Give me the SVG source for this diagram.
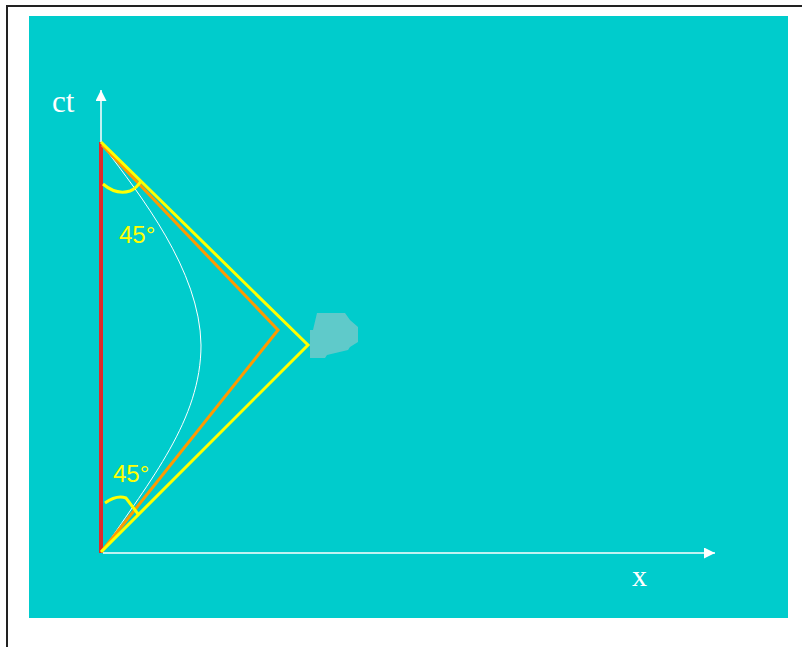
<svg xmlns="http://www.w3.org/2000/svg" width="802" height="647" viewBox="0 0 802 647">
<style>
.axis{stroke:#ffffff;stroke-width:1.5;fill:none}
.lbl{font-family:"Liberation Serif",serif;fill:#ffffff}
.ang{font-family:"Liberation Sans",Arial,sans-serif;font-size:24px;fill:#ffff00}
.yl{stroke:#ffff00;stroke-width:3;fill:none;stroke-linejoin:miter}
.or{stroke:#ff9900;stroke-width:3;fill:none}
</style>
<defs>
<marker id="ah" markerWidth="12" markerHeight="12" refX="11" refY="5.5" orient="auto" markerUnits="userSpaceOnUse">
<path d="M0,0 L11,5.5 L0,11 Z" fill="#ffffff"/>
</marker>
</defs>
<rect width="802" height="647" fill="#ffffff"/>
<path d="M7,647 L7,6 L802,6" stroke="#222222" stroke-width="2" fill="none"/>
<rect x="29" y="16" width="759" height="602" fill="#00cccc"/>
<g id="connectors">
<line id="ct-axis" class="axis" x1="101" y1="142" x2="101" y2="90" marker-end="url(#ah)"/>
<line id="x-axis" class="axis" x1="103" y1="553" x2="715" y2="553" marker-end="url(#ah)"/>
<line id="worldline" x1="101" y1="142" x2="101" y2="553" stroke="#e02a2a" stroke-width="4"/>
<path id="curve" d="M104,147 C 140,195 200,270 201,345 C 201,420 150,480 104,549" stroke="#ffffff" stroke-width="1" fill="none"/>
<polyline id="orange-path" class="or" points="102,145 278,330 102,551"/>
<polyline id="yellow-path" class="yl" points="101,142 308,345 101,552"/>
<path id="arc-top" class="yl" d="M103,184 C 110,190 120,194 130,191 C 135,189 138,186 141,181"/>
<path id="arc-bottom" class="yl" d="M105,503 C 112,498 120,496 126,498 L 138,514"/>
</g>
<g id="blob">
<polygon points="317,313 345,313 350,320 358,327 358,342 350,347 348,350 327,355 325,358 310,358 310,330 313,330" fill="#5fcaca"/>
</g>
<g id="label-ct"><text class="lbl" x="52" y="112" font-size="31">ct</text></g>
<g id="label-x"><text class="lbl" x="632" y="586" font-size="30">x</text></g>
<g id="label-45-top"><text class="ang" x="119" y="243">45°</text></g>
<g id="label-45-bottom"><text class="ang" x="113" y="482">45°</text></g>
</svg>
